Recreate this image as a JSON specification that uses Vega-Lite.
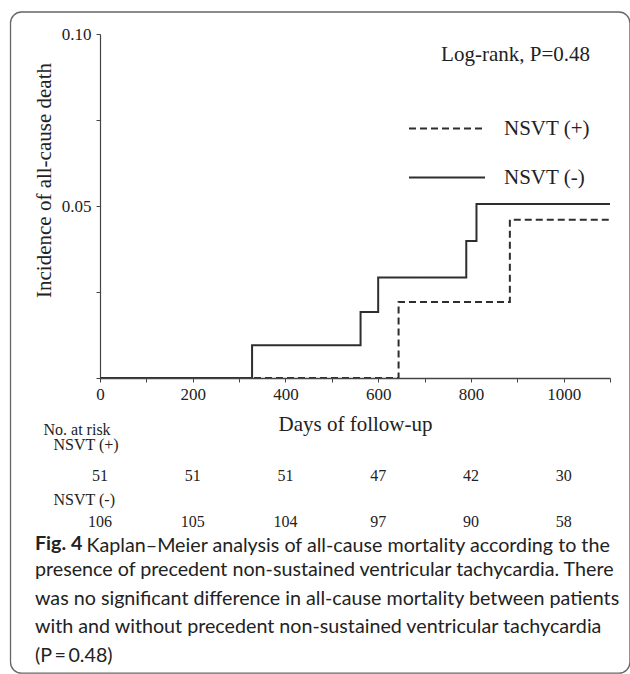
{
  "$schema": "https://vega.github.io/schema/vega-lite/v6.json",
  "background": "white",
  "padding": {"left": 9, "top": 11, "right": 0, "bottom": 0},
  "bounds": "flush",
  "spacing": 40,
  "config": {
    "view": {"stroke": null},
    "font": "Liberation Serif",
    "axis": {
      "labelFont": "Liberation Serif",
      "titleFont": "Liberation Serif",
      "labelColor": "#222",
      "titleColor": "#222",
      "titleFontWeight": "normal",
      "domainColor": "#444",
      "tickColor": "#444",
      "grid": false
    }
  },
  "vconcat": [
    {
      "width": 510,
      "height": 344,
      "data": {
        "values": [
          {"group": "NSVT (+)", "day": 0, "incidence": 0},
          {"group": "NSVT (+)", "day": 644, "incidence": 0.0221},
          {"group": "NSVT (+)", "day": 884, "incidence": 0.046},
          {"group": "NSVT (+)", "day": 1100, "incidence": 0.046},
          {"group": "NSVT (-)", "day": 0, "incidence": 0},
          {"group": "NSVT (-)", "day": 328, "incidence": 0.0095},
          {"group": "NSVT (-)", "day": 562, "incidence": 0.0192},
          {"group": "NSVT (-)", "day": 600, "incidence": 0.0292},
          {"group": "NSVT (-)", "day": 790, "incidence": 0.0398},
          {"group": "NSVT (-)", "day": 812, "incidence": 0.0506},
          {"group": "NSVT (-)", "day": 1100, "incidence": 0.0506}
        ]
      },
      "layer": [
        {
          "mark": {"type": "line", "interpolate": "step-after", "strokeWidth": 2, "color": "#2e2e2e"},
          "encoding": {
            "x": {
              "field": "day",
              "type": "quantitative",
              "scale": {"domain": [0, 1100], "nice": false, "zero": false},
              "axis": {
                "title": "Days of follow-up",
                "values": [0, 100, 200, 300, 400, 500, 600, 700, 800, 900, 1000, 1100],
                "format": "d",
                "labelExpr": "datum.value % 200 === 0 ? datum.label : ''",
                "tickSize": 4,
                "labelPadding": 4,
                "labelFontSize": 17,
                "titleFontSize": 21,
                "titlePadding": 11,
                "labelFlush": false,
                "labelOverlap": false,
                "domainWidth": 1.6,
                "zindex": 1
              }
            },
            "y": {
              "field": "incidence",
              "type": "quantitative",
              "scale": {"domain": [0, 0.1], "nice": false},
              "axis": {
                "title": "Incidence of all-cause death",
                "values": [0, 0.025, 0.05, 0.075, 0.1],
                "labelExpr": "datum.value === 0.05 ? '0.05' : datum.value === 0.1 ? '0.10' : ''",
                "tickSize": 4,
                "labelPadding": 5,
                "labelFontSize": 17,
                "titleFontSize": 21,
                "titlePadding": 7,
                "titleY": 146,
                "labelOverlap": false,
                "domainWidth": 1.2
              }
            },
            "strokeDash": {
              "field": "group",
              "type": "nominal",
              "scale": {"domain": ["NSVT (+)", "NSVT (-)"], "range": [[7, 4], [1, 0]]},
              "legend": {
                "orient": "none",
                "legendX": 308,
                "legendY": 10,
                "title": "Log-rank, P=0.48",
                "titleFont": "Liberation Serif",
                "titleFontSize": 21,
                "titleFontWeight": "normal",
                "titleColor": "#222",
                "titleAnchor": "end",
                "titlePadding": 51,
                "symbolType": "stroke",
                "symbolSize": 5776,
                "symbolStrokeWidth": 2,
                "symbolStrokeColor": "#2e2e2e",
                "labelFont": "Liberation Serif",
                "labelFontSize": 21,
                "labelColor": "#222",
                "labelOffset": 18,
                "clipHeight": 25,
                "rowPadding": 24,
                "padding": 0
              }
            }
          }
        },
        {
          "data": {"values": [{"frame": "border"}]},
          "mark": {"type": "rect", "filled": false, "color": "#666", "strokeWidth": 1.3, "cornerRadius": 11},
          "encoding": {
            "x": {"datum": -193, "type": "quantitative"},
            "x2": {"datum": 1143},
            "y": {"datum": 0.1064, "type": "quantitative"},
            "y2": {"datum": -0.0858}
          }
        }
      ]
    },
    {
      "width": 510,
      "height": 116,
      "data": {
        "values": [
          {"row": "pn", "day": 0, "n": 51},
          {"row": "pn", "day": 200, "n": 51},
          {"row": "pn", "day": 400, "n": 51},
          {"row": "pn", "day": 600, "n": 47},
          {"row": "pn", "day": 800, "n": 42},
          {"row": "pn", "day": 1000, "n": 30},
          {"row": "mn", "day": 0, "n": 106},
          {"row": "mn", "day": 200, "n": 105},
          {"row": "mn", "day": 400, "n": 104},
          {"row": "mn", "day": 600, "n": 97},
          {"row": "mn", "day": 800, "n": 90},
          {"row": "mn", "day": 1000, "n": 58}
        ]
      },
      "mark": {"type": "text", "font": "Liberation Serif", "fontSize": 16, "color": "#222", "baseline": "middle"},
      "encoding": {
        "x": {
          "field": "day",
          "type": "quantitative",
          "scale": {"domain": [0, 1100], "nice": false, "zero": false},
          "axis": {
            "title": "Kaplan–Meier analysis of all-cause mortality according to the",
            "labels": false,
            "ticks": false,
            "domain": false,
            "tickSize": 0,
            "titleFont": "Lato",
            "titleFontSize": 19.7,
            "titleFontWeight": "normal",
            "titleColor": "#222",
            "titleAnchor": "start",
            "titleAlign": "left",
            "titleX": -14,
            "titlePadding": 1
          }
        },
        "y": {
          "field": "row",
          "type": "ordinal",
          "scale": {"type": "point", "domain": ["h", "p", "pn", "m", "mn"], "padding": 0.5},
          "axis": {
            "title": null,
            "domain": false,
            "ticks": false,
            "tickSize": 0,
            "labelExpr": "datum.value == 'h' ? 'No. at risk' : datum.value == 'p' ? 'NSVT (+)' : datum.value == 'm' ? 'NSVT (-)' : ''",
            "labelAlign": "left",
            "labelBaseline": "middle",
            "labelFont": "Liberation Serif",
            "labelFontSize": 16,
            "labelColor": "#222",
            "labelPadding": {"condition": {"test": "datum.value == 'h'", "value": 57}, "value": 47},
            "labelOffset": {"condition": {"test": "datum.value == 'p'", "value": -8}, "value": 0}
          }
        },
        "text": {"field": "n", "type": "quantitative"}
      },
      "title": {
        "text": "Fig. 4",
        "subtitle": [
          "presence of precedent non-sustained ventricular tachycardia. There",
          "was no significant difference in all-cause mortality between patients",
          "with and without precedent non-sustained ventricular tachycardia",
          "(P\u2009=\u20090.48)"
        ],
        "orient": "bottom",
        "anchor": "start",
        "frame": "group",
        "font": "Lato",
        "fontSize": 19.7,
        "fontWeight": "bold",
        "color": "#222",
        "subtitleFont": "Lato",
        "subtitleFontSize": 19.7,
        "subtitleColor": "#222",
        "subtitleLineHeight": 28.5,
        "subtitlePadding": 7,
        "offset": -21,
        "dx": -65
      }
    }
  ]
}
